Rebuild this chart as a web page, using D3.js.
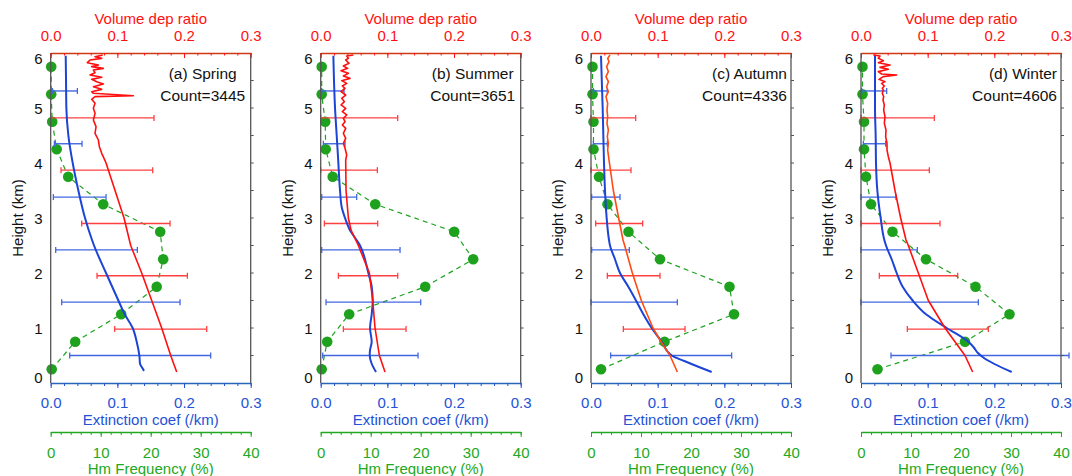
<!DOCTYPE html>
<html><head><meta charset="utf-8">
<script src="https://cdn.jsdelivr.net/npm/d3@7"></script>
<style>
html,body{margin:0;padding:0;background:#fff;}
svg{display:block;font-family:"Liberation Sans",Arial,sans-serif;}
</style></head>
<body><svg id="c" width="1072" height="476"></svg>
<script>
// ---------- data ----------
const seasonLabels = ["(a) Spring","(b) Summer","(c) Autumn","(d) Winter"];
const counts = [3445, 3651, 4336, 4606];
const coefTicks = [0, 0.1, 0.2, 0.3];
const freqTicks = [0, 10, 20, 30, 40];
const heightTicks = [0, 1, 2, 3, 4, 5, 6];

const hmHeights = [0.25,0.75,1.25,1.75,2.25,2.75,3.25,3.75,4.25,4.75,5.25,5.75];
const hmSpring = [0.2,4.9,14.1,21.2,22.5,21.9,10.5,3.5,1.2,0.3,0.1,0.1];
const hmSummer = [0.2,1.3,5.7,20.9,30.5,26.7,10.9,2.4,1.0,0.9,0.2,0.2];
const hmAutumn = [2.0,14.7,28.6,27.7,13.8,7.5,3.3,1.6,0.5,0.5,0.3,0.3];
const hmWinter = [3.3,20.8,29.7,22.9,13.0,6.3,2.0,1.0,0.6,0.6,0.3,0.3];

const extBarHeights = [0.5,1.47,2.42,3.38,4.35,5.31];
const depBarHeights = [0.98,1.95,2.9,3.87,4.82];
const extBarsSpring = [[0.0285,0.240],[0.0165,0.194],[0.0075,0.130],[0.004,0.083],[0.0055,0.047],[0.0024,0.040]];
const depBarsSpring = [[0.096,0.234],[0.0695,0.205],[0.0465,0.179],[0.0155,0.153],[0.0,0.155]];
const extBarsSummer = [[0.003,0.146],[0.008,0.150],[0.0015,0.119],[0.0015,0.054],[0.004,0.0365],[0.0015,0.035]];
const depBarsSummer = [[0.034,0.128],[0.0265,0.1155],[0.0055,0.0855],[0.0,0.085],[0.0,0.1155]];
const extBarsAutumn = [[0.0295,0.211],[0.0,0.1295],[0.001,0.0575],[0.001,0.0435],[0.0035,0.0245],[0.0035,0.0245]];
const depBarsAutumn = [[0.0485,0.141],[0.0245,0.1035],[0.007,0.0775],[0.0,0.060],[0.0,0.067]];
const extBarsWinter = [[0.045,0.312],[0.0,0.176],[0.0,0.0845],[0.0,0.0525],[0.0035,0.037],[0.001,0.0385]];
const depBarsWinter = [[0.0695,0.191],[0.0275,0.145],[0.0,0.1185],[0.0,0.1025],[0.0,0.110]];

// profiles: [height km, value]
const extSpring = [[5.95,0.0225],[5.5,0.023],[5.0,0.0235],[4.5,0.0265],[4.0,0.033],[3.5,0.0415],[3.0,0.0515],[2.6,0.062],[2.5,0.065],[2.0,0.083],[1.5,0.1015],[1.25,0.111],[1.0,0.123],[0.75,0.129],[0.5,0.133],[0.35,0.134],[0.28,0.137],[0.22,0.140]];
const depSpring = [[5.964,0.078],[5.933,0.0665],[5.903,0.0765],[5.873,0.059],[5.824,0.055],[5.782,0.0715],[5.752,0.0615],[5.721,0.079],[5.691,0.064],[5.642,0.0665],[5.600,0.059],[5.558,0.0765],[5.521,0.0615],[5.479,0.069],[5.436,0.079],[5.388,0.064],[5.339,0.0765],[5.297,0.0615],[5.267,0.064],[5.224,0.124],[5.206,0.0665],[5.158,0.0615],[5.085,0.0665],[4.994,0.064],[4.903,0.0665],[4.782,0.064],[4.661,0.068],[4.539,0.0665],[4.418,0.0715],[4.297,0.073],[4.176,0.0765],[4.085,0.080],[4.0,0.083],[3.5,0.0965],[3.0,0.110],[2.5,0.120],[2.0,0.1365],[1.5,0.1515],[1.0,0.1665],[0.5,0.180],[0.2,0.189]];
const extSummer = [[5.95,0.019],[5.0,0.0215],[4.5,0.024],[4.0,0.0265],[3.5,0.029],[3.2,0.0315],[3.0,0.0365],[2.8,0.043],[2.5,0.059],[2.0,0.0715],[1.75,0.0765],[1.5,0.078],[1.25,0.0765],[1.0,0.074],[0.75,0.0765],[0.6,0.074],[0.5,0.0735],[0.35,0.0765],[0.2,0.083]];
const depSummer = [[5.964,0.049],[5.945,0.039],[5.903,0.0415],[5.873,0.0375],[5.812,0.0425],[5.764,0.034],[5.721,0.0405],[5.679,0.0305],[5.630,0.0415],[5.582,0.034],[5.539,0.044],[5.497,0.0315],[5.448,0.039],[5.400,0.0325],[5.358,0.0365],[5.297,0.0305],[5.236,0.0375],[5.176,0.0315],[5.115,0.0355],[5.055,0.0305],[4.994,0.0375],[4.933,0.0325],[4.873,0.039],[4.812,0.034],[4.752,0.0365],[4.691,0.0325],[4.630,0.0375],[4.539,0.034],[4.448,0.0375],[4.358,0.034],[4.267,0.0365],[4.145,0.039],[4.055,0.0375],[3.5,0.038],[3.0,0.0415],[2.78,0.0455],[2.5,0.0565],[2.0,0.073],[1.5,0.078],[1.0,0.0815],[0.5,0.088],[0.2,0.0965]];
const extAutumn = [[5.95,0.015],[5.0,0.0175],[4.5,0.0185],[4.0,0.0195],[3.5,0.021],[3.0,0.0235],[2.6,0.027],[2.5,0.0285],[2.25,0.036],[2.0,0.0435],[1.75,0.056],[1.5,0.0675],[1.25,0.0785],[1.0,0.091],[0.75,0.106],[0.5,0.121],[0.4,0.140],[0.3,0.160],[0.2,0.181]];
const depAutumn = [[5.964,0.0285],[5.903,0.025],[5.842,0.027],[5.752,0.0235],[5.661,0.026],[5.570,0.0225],[5.479,0.026],[5.388,0.0235],[5.297,0.026],[5.206,0.0225],[5.085,0.025],[4.964,0.024],[4.842,0.025],[4.721,0.024],[4.600,0.026],[4.479,0.0245],[4.358,0.026],[4.236,0.025],[4.055,0.027],[3.5,0.0335],[3.0,0.0415],[2.6,0.048],[2.5,0.0505],[2.0,0.062],[1.5,0.0755],[1.0,0.093],[0.75,0.105],[0.5,0.1185],[0.2,0.1295]];
const extWinter = [[5.95,0.021],[5.0,0.021],[4.5,0.022],[4.0,0.0225],[3.5,0.0245],[3.0,0.0295],[2.6,0.035],[2.5,0.0375],[2.25,0.046],[2.0,0.0535],[1.75,0.0625],[1.5,0.0775],[1.25,0.0975],[1.0,0.1285],[0.75,0.161],[0.65,0.169],[0.55,0.175],[0.45,0.185],[0.2,0.226]];
const depWinter = [[5.964,0.0185],[5.945,0.0285],[5.903,0.026],[5.861,0.0335],[5.824,0.026],[5.782,0.0435],[5.739,0.0285],[5.703,0.041],[5.661,0.026],[5.618,0.031],[5.600,0.0535],[5.570,0.0335],[5.521,0.027],[5.479,0.036],[5.448,0.031],[5.400,0.035],[5.358,0.032],[5.327,0.0335],[5.267,0.032],[5.206,0.034],[5.145,0.033],[5.055,0.035],[4.964,0.034],[4.842,0.036],[4.721,0.035],[4.600,0.0375],[4.479,0.037],[4.358,0.039],[4.236,0.039],[4.115,0.041],[4.0,0.0435],[3.5,0.051],[3.0,0.0595],[2.6,0.0675],[2.5,0.071],[2.0,0.086],[1.5,0.101],[1.0,0.126],[0.75,0.141],[0.5,0.156],[0.2,0.1675]];

const hmSeries = [hmSpring, hmSummer, hmAutumn, hmWinter];
const extBars = [extBarsSpring, extBarsSummer, extBarsAutumn, extBarsWinter];
const depBars = [depBarsSpring, depBarsSummer, depBarsAutumn, depBarsWinter];
const extProfiles = [extSpring, extSummer, extAutumn, extWinter];
const depProfiles = [depSpring, depSummer, depAutumn, depWinter];

// ---------- layout / style ----------
const panelLefts = [50.7, 320.7, 591, 861];
const PW = 200, TOP = 53, BOT = 383, GREEN_Y = 432;
const BLUE = "#1c44d6", BLUE_T = "#2352d6", BLUE_BAR = "#4268e0";
const RED = "#ff1010", RED_BAR = "#ff4040", RED_C = "#ff4a12";
const GREEN = "#1ea21e", GREEN_T = "#22a822";
const depColors = [RED, RED, RED_C, RED];

const svg = d3.select("#c");

panelLefts.forEach((L, i) => {
  const x = d3.scaleLinear().domain([0, 0.3]).range([L, L + PW]);
  const f = d3.scaleLinear().domain([0, 40]).range([L, L + PW]);
  const y = d3.scaleLinear().domain([0, 6]).range([BOT, TOP]);
  const g = svg.append("g");

  // green Hm frequency
  const hm = hmHeights.map((h, k) => [h, hmSeries[i][k]]);
  g.append("path").datum(hm)
    .attr("d", d3.line().x(d => f(d[1])).y(d => y(d[0])))
    .attr("fill", "none").attr("stroke", GREEN).attr("stroke-width", 1.2)
    .attr("stroke-dasharray", "5,4");
  g.selectAll(".dot").data(hm).join("circle")
    .attr("cx", d => f(d[1])).attr("cy", d => y(d[0])).attr("r", 5.3)
    .attr("fill", GREEN);

  // error bars
  function bars(heights, vals, color) {
    heights.forEach((h, k) => {
      const [lo, hi] = vals[k];
      const yy = y(h);
      g.append("line").attr("x1", x(lo)).attr("x2", x(hi)).attr("y1", yy).attr("y2", yy)
        .attr("stroke", color).attr("stroke-width", 1.4);
      [lo, hi].forEach(v => g.append("line").attr("x1", x(v)).attr("x2", x(v))
        .attr("y1", yy - 3).attr("y2", yy + 3).attr("stroke", color).attr("stroke-width", 1.3));
    });
  }
  bars(extBarHeights, extBars[i], BLUE_BAR);
  bars(depBarHeights, depBars[i], RED_BAR);

  // profiles
  g.append("path").datum(extProfiles[i])
    .attr("d", d3.line().x(d => x(d[1])).y(d => y(d[0])).curve(d3.curveMonotoneY))
    .attr("fill", "none").attr("stroke", BLUE).attr("stroke-width", 2);
  g.append("path").datum(depProfiles[i]).attr("d", d3.line().x(d => x(d[1])).y(d => y(d[0])))
    .attr("fill", "none").attr("stroke", depColors[i]).attr("stroke-width", 1.6)
    .attr("stroke-linejoin", "round");

  // spines left/right
  g.append("line").attr("x1", L).attr("x2", L).attr("y1", TOP).attr("y2", BOT).attr("stroke", "#555").attr("stroke-width", 1.3);
  g.append("line").attr("x1", L + PW).attr("x2", L + PW).attr("y1", TOP).attr("y2", BOT).attr("stroke", "#555").attr("stroke-width", 1.3);
  d3.range(0.5, 6, 0.5).forEach(h => g.append("line").attr("x1", L + PW).attr("x2", L + PW + 3)
    .attr("y1", y(h)).attr("y2", y(h)).attr("stroke", "#555").attr("stroke-width", 1));

  // left axis labels
  const ya = g.append("g").attr("transform", `translate(${L},0)`)
    .call(d3.axisLeft(y).tickValues(heightTicks).tickSize(0).tickPadding(8).tickFormat(d3.format("d")));
  ya.select(".domain").remove();
  ya.selectAll("text").attr("font-size", 15).attr("fill", "#111").attr("font-family", "Liberation Sans, Arial, sans-serif")
    .attr("dy", d => d === 6 ? "0.7em" : d === 0 ? "-0.05em" : "0.34em");
  g.append("text").attr("transform", `translate(${L - 28},${(TOP + BOT) / 2}) rotate(-90)`)
    .attr("text-anchor", "middle").attr("font-size", 15).attr("fill", "#111").text("Height (km)");

  // top axis (depolarization)
  const minorTop = g.append("g").attr("transform", `translate(0,${TOP})`)
    .call(d3.axisTop(x).tickValues(d3.range(0, 0.301, 0.02)).tickSizeInner(-2.5).tickSizeOuter(0).tickFormat(""));
  minorTop.selectAll("line").attr("stroke", RED);
  minorTop.select(".domain").attr("stroke", "#d03a12").attr("stroke-width", 1.4);
  const top = g.append("g").attr("transform", `translate(0,${TOP})`)
    .call(d3.axisTop(x).tickValues(coefTicks).tickSizeInner(-5).tickSizeOuter(0).tickPadding(12).tickFormat(d3.format(".1f")));
  top.select(".domain").remove();
  top.selectAll("line").attr("stroke", RED);
  top.selectAll("text").attr("font-size", 15).attr("fill", RED).attr("font-family", "Liberation Sans, Arial, sans-serif");
  g.append("text").attr("x", L + PW / 2).attr("y", 24).attr("text-anchor", "middle")
    .attr("font-size", 15).attr("fill", RED).text("Volume dep ratio");

  // bottom axis (extinction)
  const minorBot = g.append("g").attr("transform", `translate(0,${BOT})`)
    .call(d3.axisBottom(x).tickValues(d3.range(0, 0.301, 0.02)).tickSizeInner(3).tickSizeOuter(0).tickFormat(""));
  minorBot.selectAll("line").attr("stroke", BLUE_T);
  minorBot.select(".domain").attr("stroke", "#2a66b8").attr("stroke-width", 1.6);
  const bot = g.append("g").attr("transform", `translate(0,${BOT})`)
    .call(d3.axisBottom(x).tickValues(coefTicks).tickSizeInner(5).tickSizeOuter(0).tickPadding(9.5).tickFormat(d3.format(".1f")));
  bot.select(".domain").remove();
  bot.selectAll("line").attr("stroke", BLUE_T);
  bot.selectAll("text").attr("font-size", 15).attr("fill", BLUE_T).attr("font-family", "Liberation Sans, Arial, sans-serif");
  g.append("text").attr("x", L + PW / 2).attr("y", 425).attr("text-anchor", "middle")
    .attr("font-size", 15).attr("fill", BLUE_T).text("Extinction coef (/km)");

  // green axis (Hm frequency)
  const minorG = g.append("g").attr("transform", `translate(0,${GREEN_Y})`)
    .call(d3.axisBottom(f).tickValues(d3.range(0, 40.1, 2)).tickSizeInner(3).tickSizeOuter(0).tickFormat(""));
  minorG.selectAll("line").attr("stroke", GREEN_T);
  minorG.select(".domain").attr("stroke", GREEN_T).attr("stroke-width", 1.3);
  const ga = g.append("g").attr("transform", `translate(0,${GREEN_Y})`)
    .call(d3.axisBottom(f).tickValues(freqTicks).tickSizeInner(5).tickSizeOuter(0).tickPadding(10.5).tickFormat(d3.format("d")));
  ga.select(".domain").remove();
  ga.selectAll("line").attr("stroke", GREEN_T);
  ga.selectAll("text").attr("font-size", 15).attr("fill", GREEN_T).attr("font-family", "Liberation Sans, Arial, sans-serif");
  g.append("text").attr("x", L + PW / 2).attr("y", 474).attr("text-anchor", "middle")
    .attr("font-size", 15).attr("fill", GREEN_T).text("Hm Frequency (%)");

  // annotation
  const rightAnchor = i >= 2;
  const ax = rightAnchor ? L + PW - 4 : L + PW - 48;
  g.append("text").attr("x", ax).attr("y", 79).attr("text-anchor", rightAnchor ? "end" : "middle")
    .attr("font-size", 15.5).attr("fill", "#111").text(seasonLabels[i]);
  g.append("text").attr("x", ax).attr("y", 101).attr("text-anchor", rightAnchor ? "end" : "middle")
    .attr("font-size", 15.5).attr("fill", "#111").text("Count=" + counts[i]);
});
</script>
</body></html>
